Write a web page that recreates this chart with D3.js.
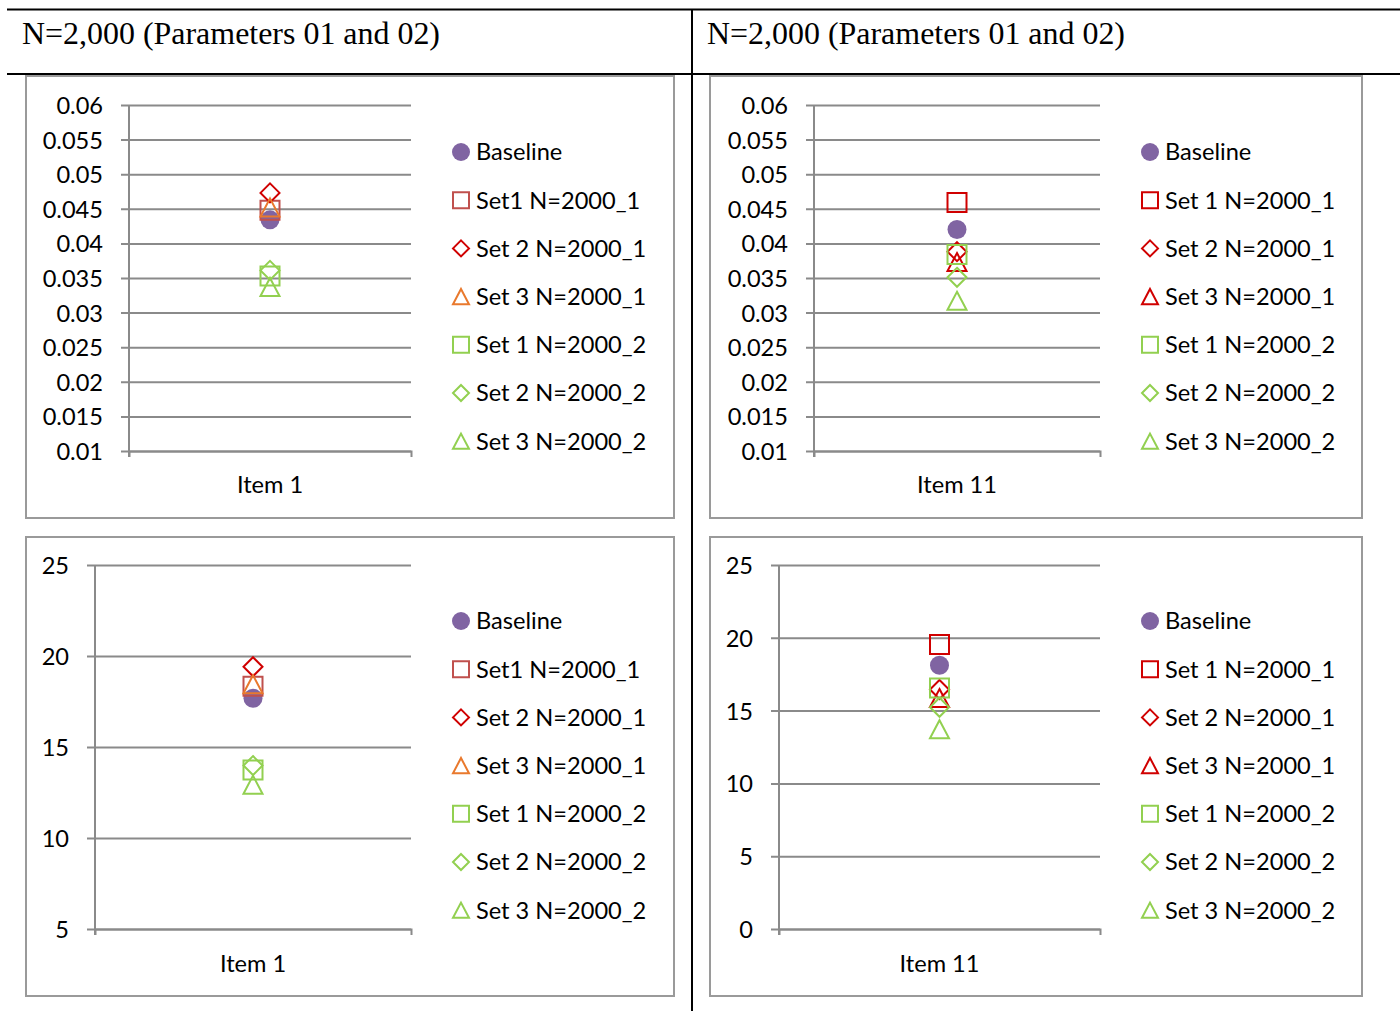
<!DOCTYPE html>
<html><head><meta charset="utf-8">
<script src="https://cdn.jsdelivr.net/npm/d3@7/dist/d3.min.js"></script>
<style>
html,body{margin:0;padding:0;background:#fff;}
svg{display:block;}
</style></head>
<body>
<svg id="chart" width="1400" height="1011"></svg>
<script>
// ---------- DATA ----------
const headerTitles = ["N=2,000 (Parameters 01 and 02)", "N=2,000 (Parameters 01 and 02)"];
const categoriesLeft = ["Item 1"];
const categoriesRight = ["Item 11"];
const legendLabelsLeft = ["Baseline","Set1 N=2000_1","Set 2 N=2000_1","Set 3 N=2000_1","Set 1 N=2000_2","Set 2 N=2000_2","Set 3 N=2000_2"];
const legendLabelsRight = ["Baseline","Set 1 N=2000_1","Set 2 N=2000_1","Set 3 N=2000_1","Set 1 N=2000_2","Set 2 N=2000_2","Set 3 N=2000_2"];
// values per series (same order as legend)
const valuesTopLeft = [0.0434, 0.0448, 0.0473, 0.0452, 0.0353, 0.0361, 0.0337];
const valuesTopRight = [0.0420, 0.0459, 0.0388, 0.0373, 0.0384, 0.0351, 0.0317];
const valuesBottomLeft = [17.68, 18.34, 19.41, 18.45, 13.73, 13.98, 12.93];
const valuesBottomRight = [18.11, 19.54, 16.45, 15.86, 16.55, 15.23, 13.72];
const ticksTop = [0.01,0.015,0.02,0.025,0.03,0.035,0.04,0.045,0.05,0.055,0.06];
const tickLabelsTop = ["0.01","0.015","0.02","0.025","0.03","0.035","0.04","0.045","0.05","0.055","0.06"];
const ticksBottomLeft = [5,10,15,20,25];
const ticksBottomRight = [0,5,10,15,20,25];

// ---------- STYLE ----------
const shapes = ["circle","square","diamond","triangle","square","diamond","triangle"];
const colorsLeft = ["#8064A2","#C0504D","#D00000","#E9792D","#92D050","#92D050","#92D050"];
const colorsRight = ["#8064A2","#D00000","#D00000","#D00000","#92D050","#92D050","#92D050"];
const FONT = "Lato, 'Open Sans', sans-serif";
const FS = 23.6;
const GRID = "#8a8a8a";

const svg = d3.select("#chart");

// table lines
svg.append("line").attr("x1",7).attr("x2",1400).attr("y1",9.5).attr("y2",9.5).attr("stroke","#000").attr("stroke-width",2);
svg.append("line").attr("x1",7).attr("x2",1400).attr("y1",74).attr("y2",74).attr("stroke","#000").attr("stroke-width",2);
svg.append("line").attr("x1",692).attr("x2",692).attr("y1",9).attr("y2",1011).attr("stroke","#000").attr("stroke-width",2);
[22, 707].forEach((hx,i) => {
  svg.append("text").attr("x",hx).attr("y",44).attr("font-family","'Liberation Serif','Times New Roman',serif")
    .attr("font-size",32).attr("fill","#000").attr("textLength",418).attr("lengthAdjust","spacingAndGlyphs").text(headerTitles[i]);
});

function markerPath(shape, s) {
  const p = d3.path();
  if (shape === "circle") { p.arc(0,0,s/2,0,2*Math.PI); p.closePath(); }
  else if (shape === "square") { p.rect(-s/2,-s/2,s,s); }
  else if (shape === "diamond") { const r = s*0.5; p.moveTo(0,-r); p.lineTo(r,0); p.lineTo(0,r); p.lineTo(-r,0); p.closePath(); }
  else { const w = s, h = s*0.95; p.moveTo(0,-h/2); p.lineTo(w/2,h/2); p.lineTo(-w/2,h/2); p.closePath(); }
  return p.toString();
}
function drawMarker(g, shape, color, cx, cy, size) {
  const filled = shape === "circle";
  g.append("path").attr("d", markerPath(shape, size))
    .attr("transform", `translate(${cx},${cy})`)
    .attr("fill", filled ? color : "none")
    .attr("stroke", filled ? "none" : color)
    .attr("stroke-width", 2);
}

function panel(cfg) {
  const g = svg.append("g");
  g.append("rect").attr("x",cfg.box[0]).attr("y",cfg.box[1]).attr("width",cfg.box[2]).attr("height",cfg.box[3])
    .attr("fill","#fff").attr("stroke","#9a9a9a").attr("stroke-width",2);
  const y = d3.scaleLinear().domain(cfg.domain).range([cfg.yb, cfg.yt]);
  const x = d3.scaleBand().domain(cfg.cats).range([cfg.x0, cfg.x1]);
  // grid + axis
  const ax = g.append("g").attr("transform",`translate(${cfg.x0},0)`)
    .call(d3.axisLeft(y).tickValues(cfg.ticks).tickFormat((d,i)=>cfg.tickLabels[i]).tickSizeInner(-(cfg.x1-cfg.x0)).tickSizeOuter(0).tickPadding(26));
  ax.select(".domain").remove();
  ax.selectAll(".tick line").attr("stroke",GRID).attr("stroke-width",2).attr("x1",-8);
  ax.selectAll(".tick text").attr("font-family",FONT).attr("font-size",FS).attr("fill","#000").attr("dy","0.36em");
  // y axis line
  g.append("line").attr("x1",cfg.x0).attr("x2",cfg.x0).attr("y1",cfg.yt).attr("y2",cfg.yb+6).attr("stroke",GRID).attr("stroke-width",2);
  // x axis + end ticks
  const xa = g.append("g").attr("transform",`translate(0,${cfg.yb})`)
    .call(d3.axisBottom(x).tickSize(0).tickSizeOuter(6).tickPadding(cfg.labPad));
  xa.select(".domain").attr("stroke",GRID).attr("stroke-width",2).attr("fill","none");
  xa.selectAll(".tick text").attr("font-family",FONT).attr("font-size",FS).attr("fill","#000").attr("dy","0.71em");
  // markers
  cfg.values.forEach((v,i) => {
    drawMarker(g, shapes[i], cfg.colors[i], x(cfg.cats[0]) + x.bandwidth()/2, y(v), 19);
  });
  // legend
  cfg.labels.forEach((lab,i) => {
    const ly = cfg.legY + i*48.2;
    drawMarker(g, shapes[i], cfg.colors[i], cfg.legX, ly, shapes[i]==="circle"?18:16);
    g.append("text").attr("x",cfg.legX+15).attr("y",ly).attr("dy","0.36em")
      .attr("font-family",FONT).attr("font-size",FS).attr("fill","#000").text(lab);
  });
}

panel({box:[26,76,648,442], domain:[0.01,0.06], ticks:ticksTop, tickLabels:tickLabelsTop, x0:129, x1:411, yt:105, yb:451,
  cats:categoriesLeft, values:valuesTopLeft, colors:colorsLeft, labels:legendLabelsLeft, legX:461, legY:152, labPad:25});
panel({box:[710,76,652,442], domain:[0.01,0.06], ticks:ticksTop, tickLabels:tickLabelsTop, x0:814, x1:1100, yt:105, yb:451,
  cats:categoriesRight, values:valuesTopRight, colors:colorsRight, labels:legendLabelsRight, legX:1150, legY:152, labPad:25});
panel({box:[26,537,648,459], domain:[5,25], ticks:ticksBottomLeft, tickLabels:ticksBottomLeft.map(String), x0:95, x1:411, yt:565, yb:929,
  cats:categoriesLeft, values:valuesBottomLeft, colors:colorsLeft, labels:legendLabelsLeft, legX:461, legY:621, labPad:26});
panel({box:[710,537,652,459], domain:[0,25], ticks:ticksBottomRight, tickLabels:ticksBottomRight.map(String), x0:779, x1:1100, yt:565, yb:929,
  cats:categoriesRight, values:valuesBottomRight, colors:colorsRight, labels:legendLabelsRight, legX:1150, legY:621, labPad:26});
</script>
</body></html>
